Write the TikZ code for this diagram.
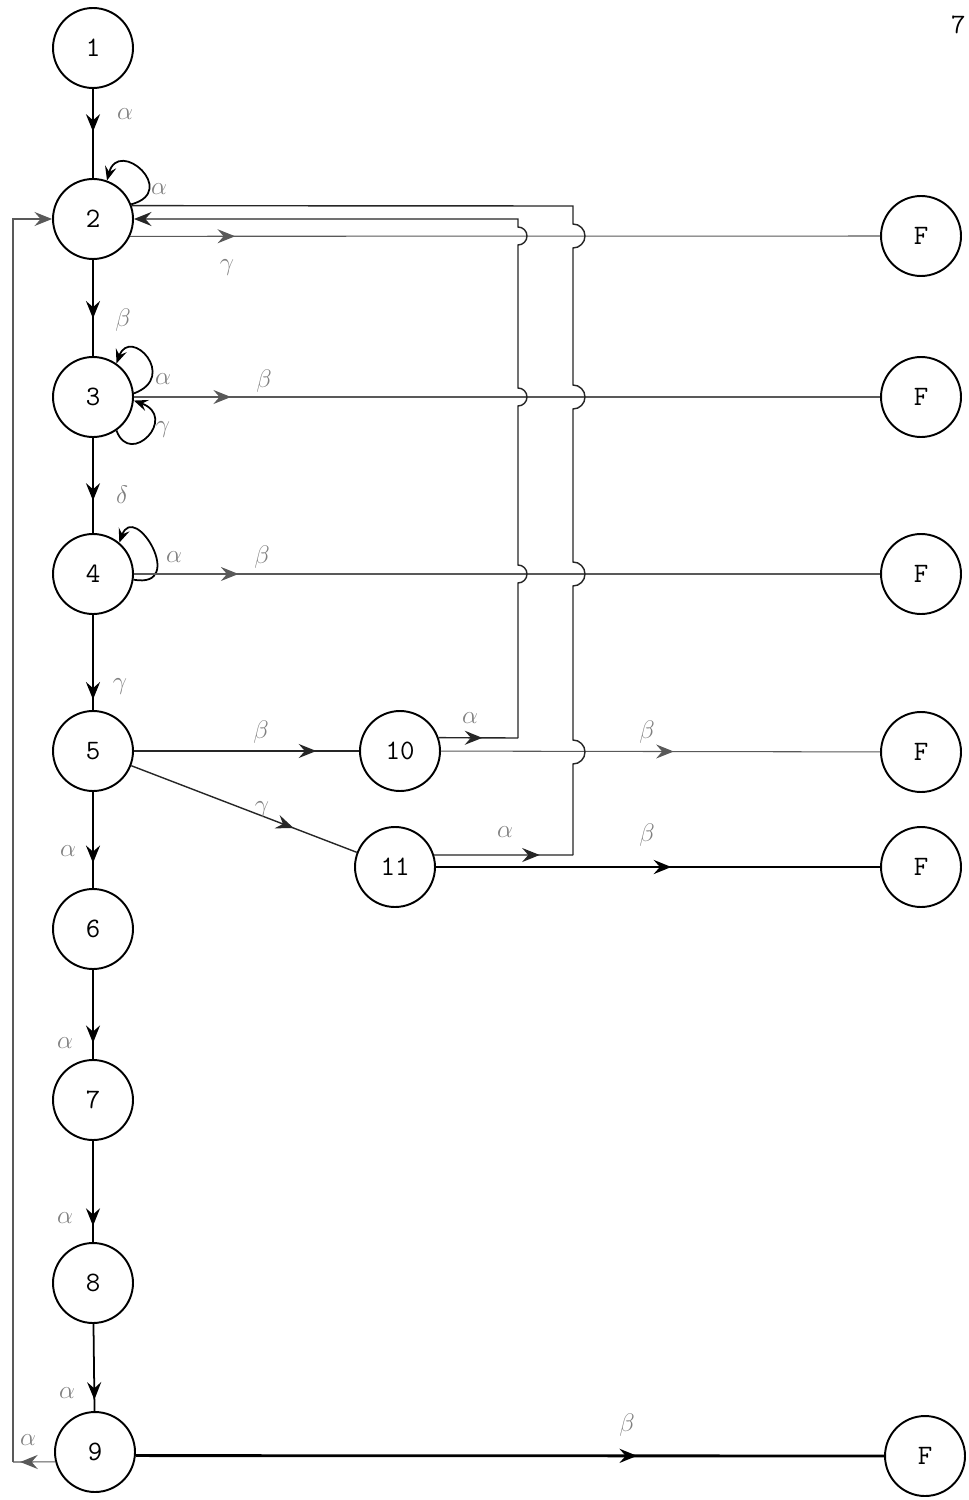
\documentclass[tikz,border=0pt]{standalone}
\usepackage{fontspec}
\usetikzlibrary{arrows.meta,decorations.markings,calc}
\begin{document}
\begin{tikzpicture}[x=0.02cm,y=0.02cm,
  >={Stealth[length=10pt,width=8pt,inset=3.5pt]},
  looptip/.style={-{Stealth[length=8pt,width=6.5pt,inset=3pt]}},
  state/.style={circle,draw,line width=1.1pt,minimum size=1.6cm,inner sep=0pt,font=\ttfamily\fontsize{16}{16}\selectfont},
  lbl/.style={text=black!50,font=\fontsize{15}{15}\selectfont,inner sep=1pt},
  midarrow/.style={postaction={decorate},decoration={markings,mark=at position #1 with {\arrow{>}}}},
  edgeone/.style={line width=1pt},
  faint/.style={line width=0.6pt,black!65},
  medium/.style={line width=0.8pt,black!85},
  heavy/.style={line width=1.6pt}
]
\useasboundingbox (0,0) rectangle (968,-1500);
\fill[white] (0,0) rectangle (968,-1500);

% states
\node[state] (n1) at (93,-48) {1};
\node[state] (n2) at (93,-219) {2};
\node[state] (n3) at (93,-397) {3};
\node[state] (n4) at (93,-574) {4};
\node[state] (n5) at (93,-751) {5};
\node[state] (n6) at (93,-929) {6};
\node[state] (n7) at (93,-1100) {7};
\node[state] (n8) at (93,-1283) {8};
\node[state] (n9) at (95,-1452) {9};
\node[state] (n10) at (400,-751) {10};
\node[state] (n11) at (395,-867) {11};
\node[state] (F1) at (921,-236) {F};
\node[state] (F2) at (921,-397) {F};
\node[state] (F3) at (921,-574) {F};
\node[state] (F4) at (921,-752) {F};
\node[state] (F5) at (921,-867) {F};
\node[state] (F6) at (925,-1456) {F};
\node[anchor=east,font=\ttfamily\fontsize{16}{16}\selectfont,inner sep=0pt] (pg) at (966,-25) {7};

% main chain
\draw[edgeone,midarrow=0.48] (n1) -- (n2);
\draw[edgeone,midarrow=0.61] (n2) -- (n3);
\draw[edgeone,midarrow=0.66] (n3) -- (n4);
\draw[edgeone,midarrow=0.89] (n4) -- (n5);
\draw[edgeone,midarrow=0.74] (n5) -- (n6);
\draw[edgeone,midarrow=0.82] (n6) -- (n7);
\draw[edgeone,midarrow=0.84] (n7) -- (n8);
\draw[edgeone,midarrow=0.87] (n8) -- (n9);

% self loops
\draw[edgeone,looptip] (n2.21) .. controls +(15:50) and +(75:45) .. (n2.70);
\draw[edgeone,looptip] (n3.5) .. controls +(20:48) and +(70:40) .. (n3.55);
\draw[edgeone,looptip] (n3.-55) .. controls +(-70:40) and +(-20:48) .. (n3.-5);
\draw[edgeone,looptip] (n4.-8) .. controls +(-10:55) and +(70:45) .. (n4.50);

% to final states
\draw[faint,midarrow=0.14] (n2.-25) -- (F1);
\draw[faint,midarrow=0.13] (n3) -- (F2);
\draw[faint,midarrow=0.14] (n4) -- (F3);
\draw[medium,midarrow=0.81] (n5) -- (n10);
\draw[medium,midarrow=0.72] (n5) -- (n11);
\draw[faint,midarrow=0.53] (n10) -- (F4);
\draw[heavy,midarrow=0.53] (n11) -- (F5);
\draw[heavy,midarrow=0.67] (n9.-5) -- (F6);

% 10 alpha back to 2
\coordinate (c10) at (518,-738);
\coordinate (c2b) at (518,-219);
\draw[medium,midarrow=0.55] (n10.19) -- (c10);
\draw[medium,->] (c10) -- ($(c10|-F3)+(0,-9)$) arc[start angle=-90,end angle=90,radius=9]
  -- ($(c10|-F2)+(0,-9)$) arc[start angle=-90,end angle=90,radius=9]
  -- ($(c10|-F1)+(0,-9)$) arc[start angle=-90,end angle=90,radius=9]
  -- (c2b) -- (n2.east);

% 11 alpha back to 2
\coordinate (c11) at (573,-855);
\coordinate (c2a) at (573,-206);
\draw[medium,midarrow=0.76] (n11.17) -- (c11);
\draw[medium] (c11) -- ($(c11|-F4)+(0,-12)$) arc[start angle=-90,end angle=90,radius=12]
  -- ($(c11|-F3)+(0,-12)$) arc[start angle=-90,end angle=90,radius=12]
  -- ($(c11|-F2)+(0,-12)$) arc[start angle=-90,end angle=90,radius=12]
  -- ($(c11|-F1)+(0,-12)$) arc[start angle=-90,end angle=90,radius=12]
  -- (c2a) -- (n2.19);

% 9 alpha back to 2 (left)
\coordinate (cl9) at (13,-1462);
\coordinate (cl2) at (13,-219);
\draw[faint,midarrow=0.83] (n9.194) -- (cl9);
\draw[faint,->] (cl9) -- (cl2) -- (n2.west);

% labels
\node[lbl] (l12) at (125,-114) {$\alpha$};
\node[lbl] (l22) at (159,-189) {$\alpha$};
\node[lbl] (l2g) at (227,-268) {$\gamma$};
\node[lbl] (l23) at (123,-320) {$\beta$};
\node[lbl] (l33a) at (163,-379) {$\alpha$};
\node[lbl] (l33g) at (163,-430) {$\gamma$};
\node[lbl] (l3F) at (264,-381) {$\beta$};
\node[lbl] (l34) at (122,-495) {$\delta$};
\node[lbl] (l44) at (174,-557) {$\alpha$};
\node[lbl] (l4F) at (262,-557) {$\beta$};
\node[lbl] (l45) at (120,-687) {$\gamma$};
\node[lbl] (l510) at (261,-732) {$\beta$};
\node[lbl] (l511) at (262,-810) {$\gamma$};
\node[lbl] (l10a) at (470,-718) {$\alpha$};
\node[lbl] (l10F) at (647,-732) {$\beta$};
\node[lbl] (l11a) at (505,-832) {$\alpha$};
\node[lbl] (l11F) at (647,-835) {$\beta$};
\node[lbl] (l56) at (68,-851) {$\alpha$};
\node[lbl] (l67) at (65,-1043) {$\alpha$};
\node[lbl] (l78) at (65,-1218) {$\alpha$};
\node[lbl] (l89) at (67,-1393) {$\alpha$};
\node[lbl] (l92) at (28,-1440) {$\alpha$};
\node[lbl] (l9F) at (627,-1425) {$\beta$};
\end{tikzpicture}
\end{document}
